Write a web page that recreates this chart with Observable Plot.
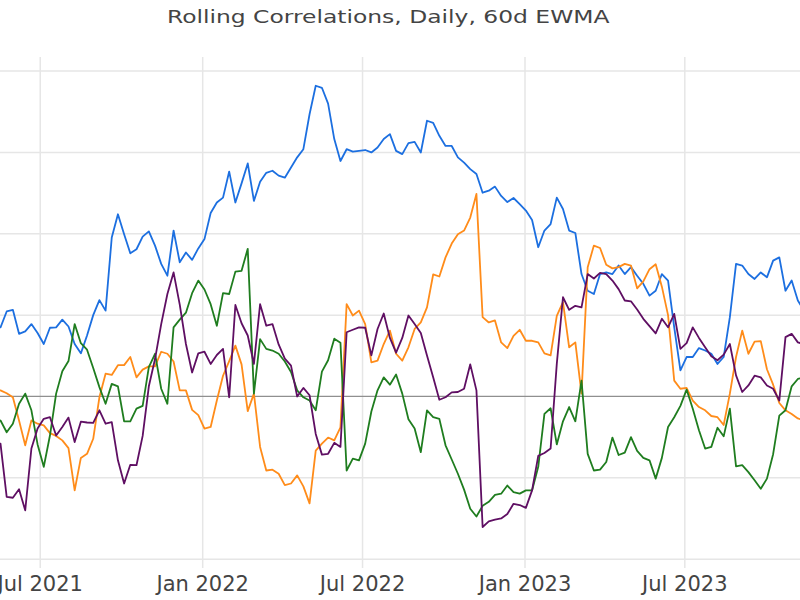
<!DOCTYPE html>
<html>
<head>
<meta charset="utf-8">
<script src="https://cdn.jsdelivr.net/npm/d3@7"></script>
<script src="https://cdn.jsdelivr.net/npm/@observablehq/plot@0.6"></script>
<style>
  html, body { margin: 0; padding: 0; background: #fff; }
  #wrap { width: 800px; height: 600px; overflow: hidden; position: relative; }
  #title { height: 32px; padding-top: 8px; padding-right: 23px; text-align: center;
           font-family: "DejaVu Sans", sans-serif; font-size: 18px; color: #444; line-height: 1; }
  #title span { display: inline-block; transform: scaleX(1.3); transform-origin: center; }
</style>
</head>
<body>
<div id="wrap">
  <div id="title"><span>Rolling Correlations, Daily, 60d EWMA</span></div>
  <div id="chart"></div>
</div>
<script>
const titleText = "Rolling Correlations, Daily, 60d EWMA";
const startDate = "2021-05-17";           // first weekly observation (Monday)
const xDomain = ["2021-05-17", "2023-11-09"];
const xTicks = ["2021-07-01", "2022-01-01", "2022-07-01", "2023-01-01", "2023-07-01"];
const yTicks = [-0.4, -0.2, 0.2, 0.4, 0.6, 0.8];
const yDomain = [-0.423, 0.8335];

const seriesNames = ["Series 1", "Series 2", "Series 3", "Series 4"];
const seriesColors = ["#1c6fe0", "#ff8c1a", "#1f7d1f", "#5f0f63"];

const s1 = [0.170,0.209,0.213,0.154,0.160,0.178,0.156,0.129,0.169,0.170,
0.189,0.172,0.129,0.106,0.150,0.200,0.237,0.211,0.391,0.448,
0.399,0.352,0.362,0.393,0.406,0.371,0.326,0.297,0.408,0.330,
0.354,0.336,0.364,0.387,0.451,0.477,0.489,0.553,0.477,0.524,
0.573,0.481,0.528,0.550,0.555,0.543,0.538,0.563,0.588,0.608,
0.694,0.764,0.759,0.720,0.633,0.579,0.608,0.602,0.604,0.606,
0.600,0.612,0.633,0.645,0.604,0.596,0.623,0.626,0.600,0.678,
0.673,0.641,0.616,0.616,0.588,0.575,0.559,0.547,0.501,0.506,
0.516,0.493,0.478,0.488,0.473,0.457,0.434,0.367,0.408,0.424,
0.489,0.461,0.408,0.402,0.301,0.260,0.252,0.301,0.305,0.301,
0.322,0.301,0.318,0.297,0.277,0.248,0.260,0.301,0.285,0.170,
0.064,0.097,0.097,0.119,0.113,0.105,0.080,0.097,0.195,0.326,
0.322,0.301,0.289,0.305,0.293,0.334,0.342,0.260,0.285,0.236,
0.211];

const s2 = [0.015,0.008,-0.002,-0.059,-0.120,-0.059,-0.067,-0.071,-0.090,-0.097,
-0.108,-0.127,-0.231,-0.151,-0.141,-0.104,-0.002,0.056,0.053,0.077,
0.077,0.097,0.047,0.066,0.074,0.074,0.110,0.105,0.086,0.015,
0.015,-0.033,-0.046,-0.079,-0.075,-0.010,0.051,0.087,0.125,0.079,
-0.036,0.007,-0.124,-0.182,-0.180,-0.190,-0.218,-0.214,-0.194,-0.221,
-0.263,-0.133,-0.116,-0.101,-0.108,-0.076,0.227,0.199,0.211,0.178,
0.084,0.088,0.129,0.162,0.105,0.088,0.121,0.166,0.182,0.219,
0.300,0.295,0.342,0.376,0.399,0.408,0.440,0.498,0.195,0.182,
0.187,0.133,0.119,0.149,0.164,0.137,0.137,0.133,0.106,0.101,
0.198,0.232,0.121,0.133,0.007,0.318,0.371,0.365,0.324,0.315,
0.318,0.326,0.322,0.266,0.283,0.313,0.325,0.270,0.200,0.039,
0.019,0.021,-0.010,-0.026,-0.034,-0.048,-0.051,-0.070,0.007,0.097,
0.162,0.105,0.135,0.136,0.067,0.029,-0.016,-0.034,-0.043,-0.054,
-0.059];

const s3 = [-0.059,-0.088,-0.067,-0.018,0.007,-0.034,-0.118,-0.173,-0.096,0.007,
0.062,0.087,0.178,0.131,0.115,0.070,0.023,-0.018,0.031,0.025,
-0.061,-0.061,-0.030,-0.023,0.072,0.105,0.019,-0.018,0.170,0.189,
0.206,0.254,0.285,0.263,0.227,0.174,0.254,0.252,0.307,0.309,
0.363,0.007,0.141,0.117,0.113,0.105,0.086,0.060,0.015,-0.002,
-0.010,-0.034,0.061,0.089,0.142,0.132,-0.182,-0.153,-0.157,-0.116,
-0.037,0.015,0.047,0.029,0.054,0.007,-0.056,-0.079,-0.137,-0.034,
-0.051,-0.055,-0.120,-0.155,-0.190,-0.229,-0.276,-0.295,-0.269,-0.259,
-0.242,-0.239,-0.219,-0.235,-0.239,-0.231,-0.231,-0.173,-0.043,-0.029,
-0.118,-0.061,-0.026,-0.061,0.039,-0.141,-0.182,-0.180,-0.161,-0.101,
-0.144,-0.138,-0.100,-0.134,-0.151,-0.157,-0.202,-0.151,-0.075,-0.051,
-0.023,0.017,-0.030,-0.083,-0.128,-0.124,-0.077,-0.098,-0.030,-0.172,
-0.169,-0.186,-0.206,-0.227,-0.202,-0.142,-0.047,-0.034,0.025,0.043,
0.047];

const s4 = [-0.116,-0.247,-0.249,-0.228,-0.280,-0.128,-0.079,-0.055,-0.051,-0.096,
-0.075,-0.052,-0.112,-0.062,-0.064,-0.065,-0.034,-0.067,-0.063,-0.157,
-0.214,-0.168,-0.169,-0.097,0.025,0.092,0.178,0.252,0.305,0.226,
0.129,0.059,0.106,0.110,0.080,0.102,0.117,-0.002,0.225,0.180,
0.150,0.080,0.227,0.174,0.178,0.128,0.093,0.076,0.000,0.021,
0.003,-0.092,-0.143,-0.141,-0.114,-0.124,0.158,0.164,0.170,0.169,
0.101,0.166,0.204,0.144,0.108,0.144,0.199,0.178,0.156,0.101,
0.047,-0.008,-0.002,0.010,0.011,0.019,0.079,0.015,-0.321,-0.307,
-0.303,-0.300,-0.289,-0.264,-0.267,-0.274,-0.231,-0.146,-0.139,-0.128,
0.080,0.244,0.213,0.223,0.219,0.301,0.290,0.304,0.301,0.285,
0.264,0.236,0.234,0.214,0.191,0.173,0.155,0.191,0.170,0.203,
0.117,0.131,0.170,0.144,0.121,0.099,0.089,0.103,0.129,0.052,
0.011,0.027,0.051,0.047,0.027,0.019,-0.010,0.146,0.154,0.133,
0.129];

const allSeries = [s1, s2, s3, s4];
const start = new Date(startDate);
const rows = [];
allSeries.forEach((vals, s) => {
  vals.forEach((v, i) => rows.push({series: seriesNames[s], date: d3.utcDay.offset(start, 7 * i), value: v}));
});

const chart = Plot.plot({
  width: 800,
  height: 560,
  marginTop: 17,
  marginBottom: 32,
  marginLeft: 0,
  marginRight: 0,
  style: {fontFamily: "DejaVu Sans, sans-serif", fontSize: "21px", color: "#444", background: "#fff"},
  x: {type: "utc", domain: xDomain.map(d => new Date(d))},
  y: {domain: yDomain, axis: null},
  color: {type: "ordinal", domain: seriesNames, range: seriesColors},
  marks: [
    Plot.gridX(xTicks.map(d => new Date(d)), {stroke: "#e6e6e6", strokeOpacity: 1, strokeWidth: 1.5}),
    Plot.gridY(yTicks, {stroke: "#e6e6e6", strokeOpacity: 1, strokeWidth: 1.5}),
    Plot.ruleY([0], {stroke: "#8f8f8f", strokeWidth: 1.3}),
    Plot.axisX(xTicks.map(d => new Date(d)), {tickFormat: d3.utcFormat("%b %Y"), tickSize: 0, tickPadding: 8, fill: "#444"}),
    Plot.lineY(rows, {x: "date", y: "value", z: "series", stroke: "series", strokeWidth: 1.8, curve: "linear", clip: true})
  ]
});
document.getElementById("chart").appendChild(chart);
</script>
</body>
</html>
